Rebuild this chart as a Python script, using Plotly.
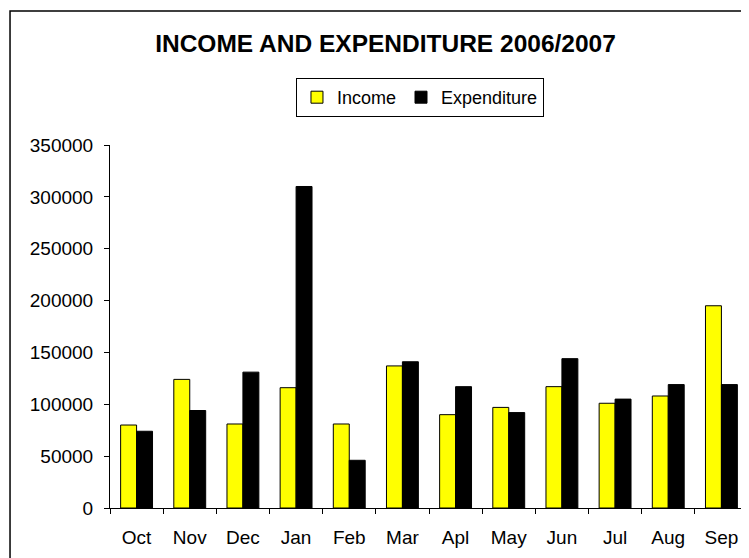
"""Income and expenditure 2006/2007 grouped bar chart."""
import plotly.graph_objects as go

# Data
months = ["Oct", "Nov", "Dec", "Jan", "Feb", "Mar",
          "Apl", "May", "Jun", "Jul", "Aug", "Sep"]
income = [80000, 124000, 81000, 116000, 81000, 137000,
          90000, 97000, 117000, 101000, 108000, 195000]
expenditure = [74000, 94000, 131000, 310000, 46000, 141000,
               117000, 92000, 144000, 105000, 119000, 119000]
y_ticks = [0, 50000, 100000, 150000, 200000, 250000, 300000, 350000]

FONT = "Liberation Sans, Arial, sans-serif"

# page body has an 8px margin, so the figure is sized a bit smaller
W, H = 741, 550

fig = go.Figure()

fig.add_trace(go.Bar(
    x=months,
    y=income,
    name="Income",
    marker=dict(color="#ffff00", line=dict(color="black", width=1)),
))
fig.add_trace(go.Bar(
    x=months,
    y=expenditure,
    name="Expenditure",
    marker=dict(color="black", line=dict(color="black", width=1)),
))

# Outer chart frame (right and bottom edges fall outside the picture)
fig.add_shape(
    type="rect",
    xref="paper", yref="paper",
    x0=-0.1567, x1=1.2, y0=-0.4, y1=1.369,
    line=dict(color="black", width=1.5),
    fillcolor="rgba(0,0,0,0)",
)

fig.update_layout(
    width=W,
    height=H,
    margin=dict(l=102, r=1, t=137, b=50),
    paper_bgcolor="white",
    plot_bgcolor="white",
    font=dict(family=FONT, size=18, color="black"),
    title=dict(
        text="<b>INCOME AND EXPENDITURE 2006/2007</b>",
        font=dict(family=FONT, size=24.5, color="black"),
        x=377.5 / W,
        xanchor="center",
        xref="container",
        y=1 - 35 / H,
        yanchor="middle",
        yref="container",
    ),
    barmode="group",
    bargap=0.4,
    bargroupgap=0,
    showlegend=True,
    legend=dict(
        orientation="h",
        x=0.2915,
        y=1.1846,
        xanchor="left",
        yanchor="top",
        bgcolor="white",
        bordercolor="black",
        borderwidth=1,
        font=dict(family=FONT, size=18, color="black"),
        itemclick=False,
    ),
    xaxis=dict(
        type="category",
        showgrid=False,
        zeroline=False,
        showline=True,
        linecolor="black",
        linewidth=1,
        ticks="outside",
        tickson="boundaries",
        ticklen=5,
        tickcolor="black",
        ticklabelstandoff=12,
        tickfont=dict(family=FONT, size=19, color="black"),
    ),
    yaxis=dict(
        range=[0, 350000],
        tickvals=y_ticks,
        ticktext=[str(v) for v in y_ticks],
        showgrid=False,
        zeroline=False,
        showline=True,
        linecolor="black",
        linewidth=1,
        ticks="outside",
        ticklen=5,
        tickcolor="black",
        ticklabelstandoff=7,
        tickfont=dict(family=FONT, size=19, color="black"),
    ),
)

fig.write_html("out.html")
